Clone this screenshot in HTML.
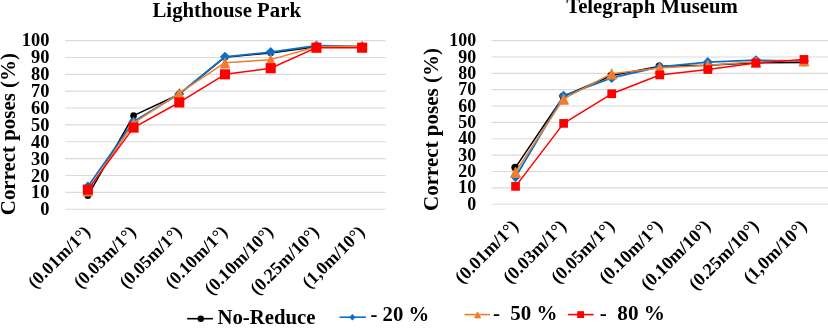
<!DOCTYPE html>
<html><head><meta charset="utf-8"><title>chart</title>
<style>
html,body{margin:0;padding:0;background:#fff;}
body{width:828px;height:334px;overflow:hidden;}
svg{display:block;will-change:transform;}
text{font-family:"Liberation Serif",serif;font-weight:bold;fill:#000;}
</style></head><body>
<svg width="828" height="334" viewBox="0 0 828 334">
<rect width="828" height="334" fill="#fff"/>
<line x1="65" x2="385.7" y1="209.20" y2="209.20" stroke="#dadada" stroke-width="1.15"/>
<line x1="65" x2="385.7" y1="192.34" y2="192.34" stroke="#dadada" stroke-width="1.15"/>
<line x1="65" x2="385.7" y1="175.48" y2="175.48" stroke="#dadada" stroke-width="1.15"/>
<line x1="65" x2="385.7" y1="158.62" y2="158.62" stroke="#dadada" stroke-width="1.15"/>
<line x1="65" x2="385.7" y1="141.76" y2="141.76" stroke="#dadada" stroke-width="1.15"/>
<line x1="65" x2="385.7" y1="124.90" y2="124.90" stroke="#dadada" stroke-width="1.15"/>
<line x1="65" x2="385.7" y1="108.04" y2="108.04" stroke="#dadada" stroke-width="1.15"/>
<line x1="65" x2="385.7" y1="91.18" y2="91.18" stroke="#dadada" stroke-width="1.15"/>
<line x1="65" x2="385.7" y1="74.32" y2="74.32" stroke="#dadada" stroke-width="1.15"/>
<line x1="65" x2="385.7" y1="57.46" y2="57.46" stroke="#dadada" stroke-width="1.15"/>
<line x1="65" x2="385.7" y1="40.60" y2="40.60" stroke="#dadada" stroke-width="1.15"/>
<text transform="translate(49.4,215.40) scale(0.98,1.0)" text-anchor="end" font-size="18.8">0</text>
<text transform="translate(49.4,198.46) scale(0.98,1.0)" text-anchor="end" font-size="18.8">10</text>
<text transform="translate(49.4,181.52) scale(0.98,1.0)" text-anchor="end" font-size="18.8">20</text>
<text transform="translate(49.4,164.58) scale(0.98,1.0)" text-anchor="end" font-size="18.8">30</text>
<text transform="translate(49.4,147.64) scale(0.98,1.0)" text-anchor="end" font-size="18.8">40</text>
<text transform="translate(49.4,130.70) scale(0.98,1.0)" text-anchor="end" font-size="18.8">50</text>
<text transform="translate(49.4,113.76) scale(0.98,1.0)" text-anchor="end" font-size="18.8">60</text>
<text transform="translate(49.4,96.82) scale(0.98,1.0)" text-anchor="end" font-size="18.8">70</text>
<text transform="translate(49.4,79.88) scale(0.98,1.0)" text-anchor="end" font-size="18.8">80</text>
<text transform="translate(49.4,62.94) scale(0.98,1.0)" text-anchor="end" font-size="18.8">90</text>
<text transform="translate(49.4,46.00) scale(0.98,1.0)" text-anchor="end" font-size="18.8">100</text>
<text x="226.75" y="17" text-anchor="middle" font-size="20.8">Lighthouse Park</text>
<text transform="translate(14.5,134.15) rotate(-90) scale(1,1.03)" text-anchor="middle" font-size="20.9">Correct poses (%)</text>
<text transform="translate(91.36,233.00) rotate(-45)" text-anchor="end" font-size="18.0">(0.01m/1°)</text>
<text transform="translate(137.07,233.00) rotate(-45)" text-anchor="end" font-size="18.0">(0.03m/1°)</text>
<text transform="translate(182.79,233.00) rotate(-45)" text-anchor="end" font-size="18.0">(0.05m/1°)</text>
<text transform="translate(228.50,233.00) rotate(-45)" text-anchor="end" font-size="18.0">(0.10m/1°)</text>
<text transform="translate(274.21,233.00) rotate(-45)" text-anchor="end" font-size="18.0">(0.10m/10°)</text>
<text transform="translate(319.93,233.00) rotate(-45)" text-anchor="end" font-size="18.0">(0.25m/10°)</text>
<text transform="translate(365.64,233.00) rotate(-45)" text-anchor="end" font-size="18.0">(1,0m/10°)</text>
<polyline points="87.86,195.71 133.57,115.63 179.29,94.21 225.00,57.29 270.71,52.91 316.43,46.67 362.14,46.84" fill="none" stroke="#000000" stroke-width="1.5" stroke-linejoin="round"/>
<circle cx="87.86" cy="195.71" r="3.30" fill="#000000"/>
<circle cx="133.57" cy="115.63" r="3.30" fill="#000000"/>
<circle cx="179.29" cy="94.21" r="3.30" fill="#000000"/>
<circle cx="225.00" cy="57.29" r="3.30" fill="#000000"/>
<circle cx="270.71" cy="52.91" r="3.30" fill="#000000"/>
<circle cx="316.43" cy="46.67" r="3.30" fill="#000000"/>
<circle cx="362.14" cy="46.84" r="3.30" fill="#000000"/>
<polyline points="87.86,186.61 133.57,121.53 179.29,93.88 225.00,56.79 270.71,52.06 316.43,45.66 362.14,46.33" fill="none" stroke="#0c6fc7" stroke-width="1.75" stroke-linejoin="round"/>
<polygon points="87.86,181.56 92.91,186.61 87.86,191.66 82.81,186.61" fill="#0c6fc7"/>
<polygon points="133.57,116.48 138.62,121.53 133.57,126.58 128.52,121.53" fill="#0c6fc7"/>
<polygon points="179.29,88.83 184.34,93.88 179.29,98.93 174.24,93.88" fill="#0c6fc7"/>
<polygon points="225.00,51.74 230.05,56.79 225.00,61.84 219.95,56.79" fill="#0c6fc7"/>
<polygon points="270.71,47.01 275.76,52.06 270.71,57.11 265.66,52.06" fill="#0c6fc7"/>
<polygon points="316.43,40.61 321.48,45.66 316.43,50.71 311.38,45.66" fill="#0c6fc7"/>
<polygon points="362.14,41.28 367.19,46.33 362.14,51.38 357.09,46.33" fill="#0c6fc7"/>
<polyline points="87.86,190.65 133.57,123.21 179.29,93.20 225.00,62.69 270.71,59.65 316.43,46.67 362.14,46.33" fill="none" stroke="#ed7d31" stroke-width="1.5" stroke-linejoin="round"/>
<polygon points="87.86,185.84 92.41,196.00 83.31,196.00" fill="#ed7d31" stroke="#ed7d31" stroke-width="0.9" stroke-linejoin="round"/>
<polygon points="133.57,118.40 138.12,128.56 129.02,128.56" fill="#ed7d31" stroke="#ed7d31" stroke-width="0.9" stroke-linejoin="round"/>
<polygon points="179.29,88.39 183.84,98.55 174.74,98.55" fill="#ed7d31" stroke="#ed7d31" stroke-width="0.9" stroke-linejoin="round"/>
<polygon points="225.00,57.88 229.55,68.04 220.45,68.04" fill="#ed7d31" stroke="#ed7d31" stroke-width="0.9" stroke-linejoin="round"/>
<polygon points="270.71,54.84 275.26,65.00 266.16,65.00" fill="#ed7d31" stroke="#ed7d31" stroke-width="0.9" stroke-linejoin="round"/>
<polygon points="316.43,41.86 320.98,52.02 311.88,52.02" fill="#ed7d31" stroke="#ed7d31" stroke-width="0.9" stroke-linejoin="round"/>
<polygon points="362.14,41.52 366.69,51.68 357.59,51.68" fill="#ed7d31" stroke="#ed7d31" stroke-width="0.9" stroke-linejoin="round"/>
<polyline points="87.86,189.64 133.57,127.60 179.29,102.48 225.00,74.32 270.71,68.25 316.43,47.68 362.14,47.68" fill="none" stroke="#ff0000" stroke-width="1.5" stroke-linejoin="round"/>
<rect x="82.81" y="184.59" width="10.10" height="10.10" fill="#ff0000"/>
<rect x="128.52" y="122.55" width="10.10" height="10.10" fill="#ff0000"/>
<rect x="174.24" y="97.43" width="10.10" height="10.10" fill="#ff0000"/>
<rect x="219.95" y="69.27" width="10.10" height="10.10" fill="#ff0000"/>
<rect x="265.66" y="63.20" width="10.10" height="10.10" fill="#ff0000"/>
<rect x="311.38" y="42.63" width="10.10" height="10.10" fill="#ff0000"/>
<rect x="357.09" y="42.63" width="10.10" height="10.10" fill="#ff0000"/>
<line x1="491.5" x2="828" y1="204.20" y2="204.20" stroke="#dadada" stroke-width="1.15"/>
<line x1="491.5" x2="828" y1="187.84" y2="187.84" stroke="#dadada" stroke-width="1.15"/>
<line x1="491.5" x2="828" y1="171.48" y2="171.48" stroke="#dadada" stroke-width="1.15"/>
<line x1="491.5" x2="828" y1="155.12" y2="155.12" stroke="#dadada" stroke-width="1.15"/>
<line x1="491.5" x2="828" y1="138.76" y2="138.76" stroke="#dadada" stroke-width="1.15"/>
<line x1="491.5" x2="828" y1="122.40" y2="122.40" stroke="#dadada" stroke-width="1.15"/>
<line x1="491.5" x2="828" y1="106.04" y2="106.04" stroke="#dadada" stroke-width="1.15"/>
<line x1="491.5" x2="828" y1="89.68" y2="89.68" stroke="#dadada" stroke-width="1.15"/>
<line x1="491.5" x2="828" y1="73.32" y2="73.32" stroke="#dadada" stroke-width="1.15"/>
<line x1="491.5" x2="828" y1="56.96" y2="56.96" stroke="#dadada" stroke-width="1.15"/>
<line x1="491.5" x2="828" y1="40.60" y2="40.60" stroke="#dadada" stroke-width="1.15"/>
<text transform="translate(476.2,209.50) scale(1.0,1.0)" text-anchor="end" font-size="17.9">0</text>
<text transform="translate(476.2,193.17) scale(1.0,1.0)" text-anchor="end" font-size="17.9">10</text>
<text transform="translate(476.2,176.84) scale(1.0,1.0)" text-anchor="end" font-size="17.9">20</text>
<text transform="translate(476.2,160.51) scale(1.0,1.0)" text-anchor="end" font-size="17.9">30</text>
<text transform="translate(476.2,144.18) scale(1.0,1.0)" text-anchor="end" font-size="17.9">40</text>
<text transform="translate(476.2,127.85) scale(1.0,1.0)" text-anchor="end" font-size="17.9">50</text>
<text transform="translate(476.2,111.52) scale(1.0,1.0)" text-anchor="end" font-size="17.9">60</text>
<text transform="translate(476.2,95.19) scale(1.0,1.0)" text-anchor="end" font-size="17.9">70</text>
<text transform="translate(476.2,78.86) scale(1.0,1.0)" text-anchor="end" font-size="17.9">80</text>
<text transform="translate(476.2,62.53) scale(1.0,1.0)" text-anchor="end" font-size="17.9">90</text>
<text transform="translate(476.2,46.20) scale(1.0,1.0)" text-anchor="end" font-size="17.9">100</text>
<text x="652.0" y="13.2" text-anchor="middle" font-size="20.75">Telegraph Museum</text>
<text transform="translate(437.5,129.5) rotate(-90) scale(1,1.02)" text-anchor="middle" font-size="21.0">Correct poses (%)</text>
<text transform="translate(519.34,227.20) rotate(-45)" text-anchor="end" font-size="18.3">(0.01m/1°)</text>
<text transform="translate(567.41,227.20) rotate(-45)" text-anchor="end" font-size="18.3">(0.03m/1°)</text>
<text transform="translate(615.48,227.20) rotate(-45)" text-anchor="end" font-size="18.3">(0.05m/1°)</text>
<text transform="translate(663.55,227.20) rotate(-45)" text-anchor="end" font-size="18.3">(0.10m/1°)</text>
<text transform="translate(711.62,227.20) rotate(-45)" text-anchor="end" font-size="18.3">(0.10m/10°)</text>
<text transform="translate(759.69,227.20) rotate(-45)" text-anchor="end" font-size="18.3">(0.25m/10°)</text>
<text transform="translate(807.76,227.20) rotate(-45)" text-anchor="end" font-size="18.3">(1,0m/10°)</text>
<polyline points="515.54,167.39 563.61,96.22 611.68,75.45 659.75,66.29 707.82,65.14 755.89,62.69 803.96,62.52" fill="none" stroke="#000000" stroke-width="1.5" stroke-linejoin="round"/>
<circle cx="515.04" cy="167.39" r="3.70" fill="#000000"/>
<circle cx="563.11" cy="96.22" r="3.70" fill="#000000"/>
<circle cx="611.18" cy="75.45" r="3.70" fill="#000000"/>
<circle cx="659.25" cy="66.29" r="3.70" fill="#000000"/>
<circle cx="707.32" cy="65.14" r="3.70" fill="#000000"/>
<circle cx="755.39" cy="62.69" r="3.70" fill="#000000"/>
<circle cx="803.46" cy="62.52" r="3.70" fill="#000000"/>
<polyline points="515.54,177.04 563.61,95.73 611.68,77.90 659.75,66.94 707.82,62.20 755.89,60.23 803.96,61.05" fill="none" stroke="#0c6fc7" stroke-width="1.75" stroke-linejoin="round"/>
<polygon points="515.54,171.94 520.64,177.04 515.54,182.14 510.44,177.04" fill="#0c6fc7"/>
<polygon points="563.61,90.63 568.71,95.73 563.61,100.83 558.51,95.73" fill="#0c6fc7"/>
<polygon points="611.68,72.80 616.78,77.90 611.68,83.00 606.58,77.90" fill="#0c6fc7"/>
<polygon points="659.75,61.84 664.85,66.94 659.75,72.04 654.65,66.94" fill="#0c6fc7"/>
<polygon points="707.82,57.10 712.92,62.20 707.82,67.30 702.72,62.20" fill="#0c6fc7"/>
<polygon points="755.89,55.13 760.99,60.23 755.89,65.33 750.79,60.23" fill="#0c6fc7"/>
<polygon points="803.96,55.95 809.06,61.05 803.96,66.15 798.86,61.05" fill="#0c6fc7"/>
<polyline points="515.54,171.97 563.61,98.84 611.68,73.65 659.75,68.08 707.82,65.14 755.89,61.87 803.96,60.56" fill="none" stroke="#ed7d31" stroke-width="1.5" stroke-linejoin="round"/>
<polygon points="515.54,167.06 520.44,177.42 510.64,177.42" fill="#ed7d31" stroke="#ed7d31" stroke-width="0.9" stroke-linejoin="round"/>
<polygon points="563.61,93.93 568.51,104.29 558.71,104.29" fill="#ed7d31" stroke="#ed7d31" stroke-width="0.9" stroke-linejoin="round"/>
<polygon points="611.68,68.74 616.58,79.10 606.78,79.10" fill="#ed7d31" stroke="#ed7d31" stroke-width="0.9" stroke-linejoin="round"/>
<polygon points="659.75,63.17 664.65,73.53 654.85,73.53" fill="#ed7d31" stroke="#ed7d31" stroke-width="0.9" stroke-linejoin="round"/>
<polygon points="707.82,60.23 712.72,70.59 702.92,70.59" fill="#ed7d31" stroke="#ed7d31" stroke-width="0.9" stroke-linejoin="round"/>
<polygon points="755.89,56.96 760.79,67.32 750.99,67.32" fill="#ed7d31" stroke="#ed7d31" stroke-width="0.9" stroke-linejoin="round"/>
<polygon points="803.96,55.65 808.86,66.01 799.06,66.01" fill="#ed7d31" stroke="#ed7d31" stroke-width="0.9" stroke-linejoin="round"/>
<polyline points="515.54,186.37 563.61,123.38 611.68,93.77 659.75,74.96 707.82,69.56 755.89,63.01 803.96,59.41" fill="none" stroke="#ff0000" stroke-width="1.5" stroke-linejoin="round"/>
<rect x="511.19" y="182.02" width="8.70" height="8.70" fill="#ff0000"/>
<rect x="559.26" y="119.03" width="8.70" height="8.70" fill="#ff0000"/>
<rect x="607.33" y="89.42" width="8.70" height="8.70" fill="#ff0000"/>
<rect x="655.40" y="70.61" width="8.70" height="8.70" fill="#ff0000"/>
<rect x="703.47" y="65.21" width="8.70" height="8.70" fill="#ff0000"/>
<rect x="751.54" y="58.66" width="8.70" height="8.70" fill="#ff0000"/>
<rect x="799.61" y="55.06" width="8.70" height="8.70" fill="#ff0000"/>
<line x1="187.2" x2="212.9" y1="318.7" y2="318.7" stroke="#000000" stroke-width="1.6"/><circle cx="200.80" cy="318.70" r="3.20" fill="#000000"/><text x="217.5" y="323.7" font-size="20.75" xml:space="preserve">No-Reduce</text>
<line x1="339.5" x2="365.9" y1="317.2" y2="317.2" stroke="#0c6fc7" stroke-width="1.6"/><polygon points="352.40,313.90 355.70,317.20 352.40,320.50 349.10,317.20" fill="#0c6fc7"/><text x="370.5" y="321.4" font-size="20.7" xml:space="preserve">- 20 %</text>
<line x1="464.5" x2="490" y1="314.6" y2="314.6" stroke="#ed7d31" stroke-width="1.6"/><polygon points="477.60,311.84 480.65,317.90 474.55,317.90" fill="#ed7d31" stroke="#ed7d31" stroke-width="0.9" stroke-linejoin="round"/><text x="492.9" y="320.0" font-size="20.9" xml:space="preserve">-  50 %</text>
<line x1="568.1" x2="593.6" y1="314.6" y2="314.6" stroke="#ff0000" stroke-width="1.6"/><rect x="577.20" y="311.20" width="6.80" height="6.80" fill="#ff0000"/><text x="599.7" y="320.0" font-size="21.2" xml:space="preserve">-  80 %</text>
</svg>
</body></html>
